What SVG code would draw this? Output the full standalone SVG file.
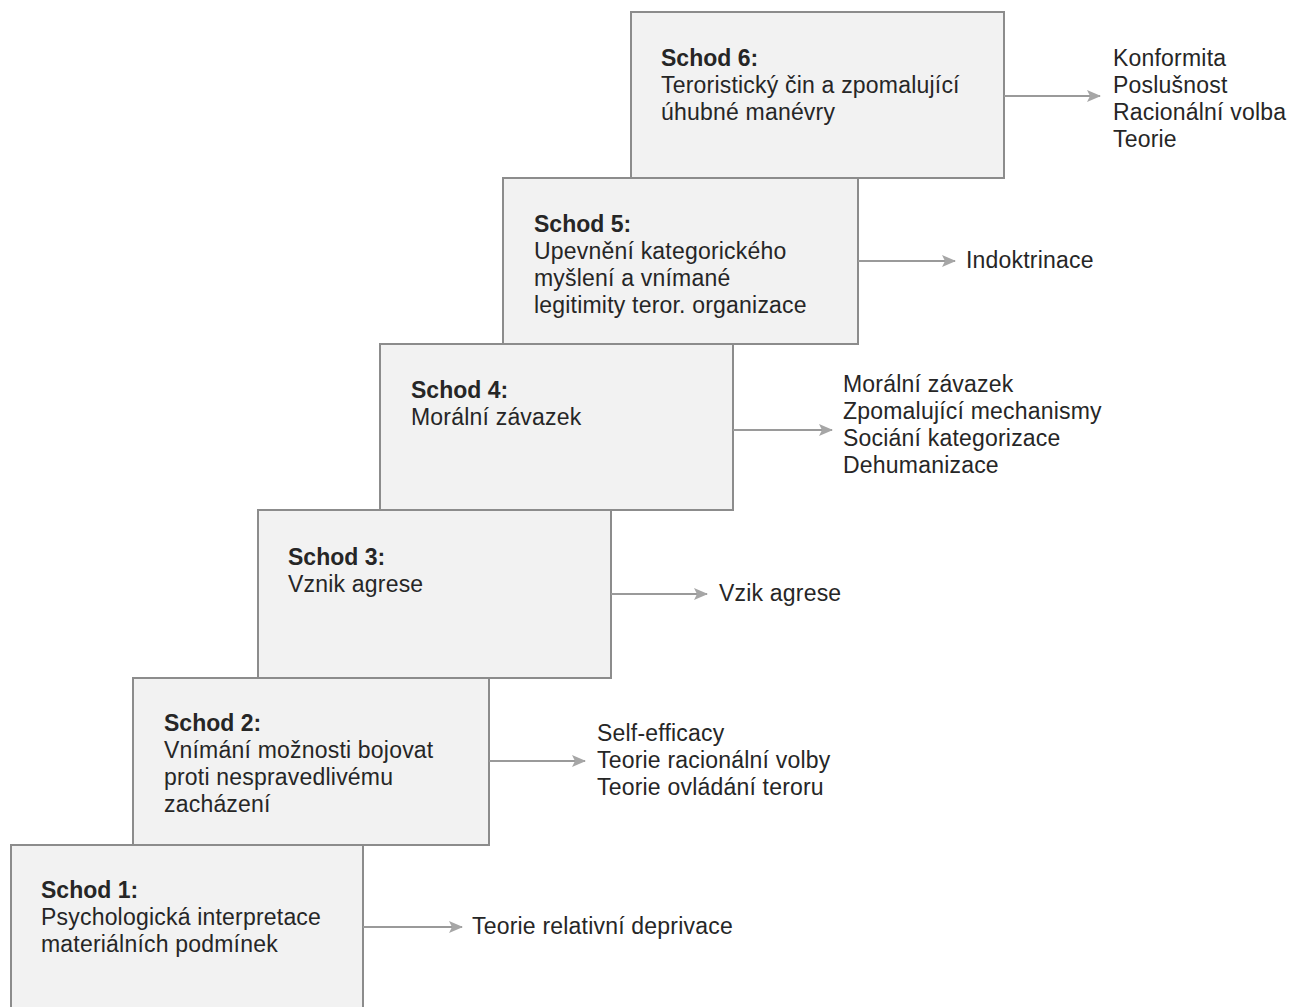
<svg xmlns="http://www.w3.org/2000/svg" width="1301" height="1007" viewBox="0 0 1301 1007">
<style>
.box{fill:#f2f2f2;stroke:#8c8c8c;stroke-width:2}
.t{font-family:"Liberation Sans",Arial,sans-serif;font-size:23px;letter-spacing:0.2px;fill:#262626}
.b{font-weight:bold;letter-spacing:0}
.c{stroke:#9a9a9a;stroke-width:2;fill:none}
</style>
<defs>
<marker id="ah" markerWidth="14" markerHeight="12" refX="13" refY="6" orient="auto" markerUnits="userSpaceOnUse">
<path d="M0,0 L14,6 L0,12 L3,6 Z" fill="#a6a6a6"/>
</marker>
</defs>
<rect x="0" y="0" width="1301" height="1007" fill="#ffffff"/>
<g id="node-step1">
<rect class="box" x="11" y="845" width="352" height="175"/>
<text class="t" x="41" y="898"><tspan class="b">Schod 1:</tspan><tspan x="41" dy="27">Psychologická interpretace</tspan><tspan x="41" dy="27">materiálních podmínek</tspan></text>
</g>
<g id="node-step2">
<rect class="box" x="133" y="678" width="356" height="167"/>
<text class="t" x="164" y="731"><tspan class="b">Schod 2:</tspan><tspan x="164" dy="27">Vnímání možnosti bojovat</tspan><tspan x="164" dy="27">proti nespravedlivému</tspan><tspan x="164" dy="27">zacházení</tspan></text>
</g>
<g id="node-step3">
<rect class="box" x="258" y="510" width="353" height="168"/>
<text class="t" x="288" y="565"><tspan class="b">Schod 3:</tspan><tspan x="288" dy="27">Vznik agrese</tspan></text>
</g>
<g id="node-step4">
<rect class="box" x="380" y="344" width="353" height="166"/>
<text class="t" x="411" y="398"><tspan class="b">Schod 4:</tspan><tspan x="411" dy="27">Morální závazek</tspan></text>
</g>
<g id="node-step5">
<rect class="box" x="503" y="178" width="355" height="166"/>
<text class="t" x="534" y="232"><tspan class="b">Schod 5:</tspan><tspan x="534" dy="27">Upevnění kategorického</tspan><tspan x="534" dy="27">myšlení a vnímané</tspan><tspan x="534" dy="27">legitimity teror. organizace</tspan></text>
</g>
<g id="node-step6">
<rect class="box" x="631" y="12" width="373" height="166"/>
<text class="t" x="661" y="66"><tspan class="b">Schod 6:</tspan><tspan x="661" dy="27">Teroristický čin a zpomalující</tspan><tspan x="661" dy="27">úhubné manévry</tspan></text>
</g>
<g id="connectors">
<line class="c" x1="363" y1="927" x2="462" y2="927" marker-end="url(#ah)"/>
<line class="c" x1="489" y1="761" x2="585" y2="761" marker-end="url(#ah)"/>
<line class="c" x1="611" y1="594" x2="707" y2="594" marker-end="url(#ah)"/>
<line class="c" x1="733" y1="430" x2="832" y2="430" marker-end="url(#ah)"/>
<line class="c" x1="858" y1="261" x2="955" y2="261" marker-end="url(#ah)"/>
<line class="c" x1="1004" y1="96" x2="1100" y2="96" marker-end="url(#ah)"/>
</g>
<g id="labels">
<text class="t" x="472" y="934">Teorie relativní deprivace</text>
<text class="t" x="597" y="741"><tspan>Self-efficacy</tspan><tspan x="597" dy="27">Teorie racionální volby</tspan><tspan x="597" dy="27">Teorie ovládání teroru</tspan></text>
<text class="t" x="719" y="601">Vzik agrese</text>
<text class="t" x="843" y="392"><tspan>Morální závazek</tspan><tspan x="843" dy="27">Zpomalující mechanismy</tspan><tspan x="843" dy="27">Sociání kategorizace</tspan><tspan x="843" dy="27">Dehumanizace</tspan></text>
<text class="t" x="966" y="268">Indoktrinace</text>
<text class="t" x="1113" y="66"><tspan>Konformita</tspan><tspan x="1113" dy="27">Poslušnost</tspan><tspan x="1113" dy="27">Racionální volba</tspan><tspan x="1113" dy="27">Teorie</tspan></text>
</g>
</svg>
